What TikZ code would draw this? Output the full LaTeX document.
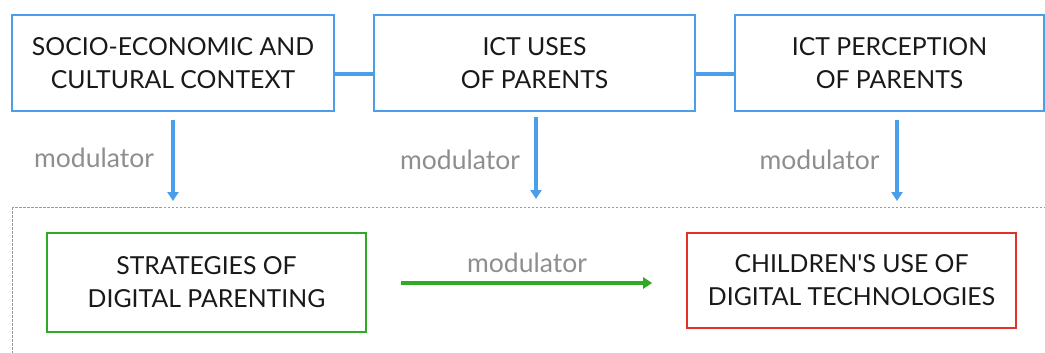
\documentclass[tikz,border=0pt]{standalone}
\usepackage{fontspec}
\setmainfont{Lato}[Ligatures=TeXOff]
\usetikzlibrary{arrows.meta}
\definecolor{cblue}{HTML}{4A9EEA}
\definecolor{cgreen}{HTML}{2FAA22}
\definecolor{cred}{HTML}{E0322B}
\definecolor{cgrey}{HTML}{8E8E8E}
\definecolor{cdash}{HTML}{9A9A9A}
\begin{document}
\begin{tikzpicture}[x=1pt,y=-1pt,
  box/.style={draw=#1, line width=1.6pt, fill=white, align=center, inner sep=0pt,
    font=\fontsize{24.8}{33}\selectfont, text=black!90},
  link/.style={draw=cblue, line width=4pt},
  downarrow/.style={draw=cblue, line width=3.5pt, -{Triangle[length=9pt,width=11pt]}},
  rightarrow/.style={draw=cgreen, line width=3.5pt, -{Triangle[length=9pt,width=11pt]}},
  modlabel/.style={text=cgrey, font=\fontsize{26.5}{30}\selectfont, inner sep=0pt},
  frame/.style={draw=cdash, line width=0.8pt, dash pattern=on 2.5pt off 1.5pt}]
\useasboundingbox (0,0) rectangle (1045,353);
% dashed frame
\draw[frame] (12,207) rectangle (1060,370);
% top boxes
\node[box=cblue, minimum width=322pt, minimum height=96pt] (b1) at (173,63) {SOCIO-ECONOMIC AND\\CULTURAL CONTEXT};
\node[box=cblue, minimum width=321pt, minimum height=96pt] (b2) at (534.5,63) {ICT USES\\OF PARENTS};
\node[box=cblue, minimum width=309pt, minimum height=96pt] (b3) at (889.5,63) {ICT PERCEPTION\\OF PARENTS};
\draw[link] (b1.east |- 0,74) -- (b2.west |- 0,74);
\draw[link] (b2.east |- 0,74) -- (b3.west |- 0,74);
% bottom boxes
\node[box=cgreen, minimum width=319pt, minimum height=99pt] (s) at (206.5,282.5) {STRATEGIES OF\\DIGITAL PARENTING};
\node[box=cred, minimum width=329pt, minimum height=95pt] (c) at (851.5,280.5) {CHILDREN'S USE OF\\DIGITAL TECHNOLOGIES};
% down arrows
\coordinate (a1s) at (173,120); \coordinate (a1e) at (173,201);
\coordinate (a2s) at (536,117); \coordinate (a2e) at (536,199);
\coordinate (a3s) at (897,120); \coordinate (a3e) at (897,201);
\draw[downarrow] (a1s) -- (a1e);
\draw[downarrow] (a2s) -- (a2e);
\draw[downarrow] (a3s) -- (a3e);
\node[modlabel] (m1) at (94,158) {modulator};
\node[modlabel] (m2) at (460,160) {modulator};
\node[modlabel] (m3) at (819.5,160) {modulator};
% green arrow
\draw[rightarrow, shorten <=34pt, shorten >=34pt] (s.east |- 0,283) -- (c.west |- 0,283);
\node[modlabel] (m4) at (527,263) {modulator};
\end{tikzpicture}
\end{document}
